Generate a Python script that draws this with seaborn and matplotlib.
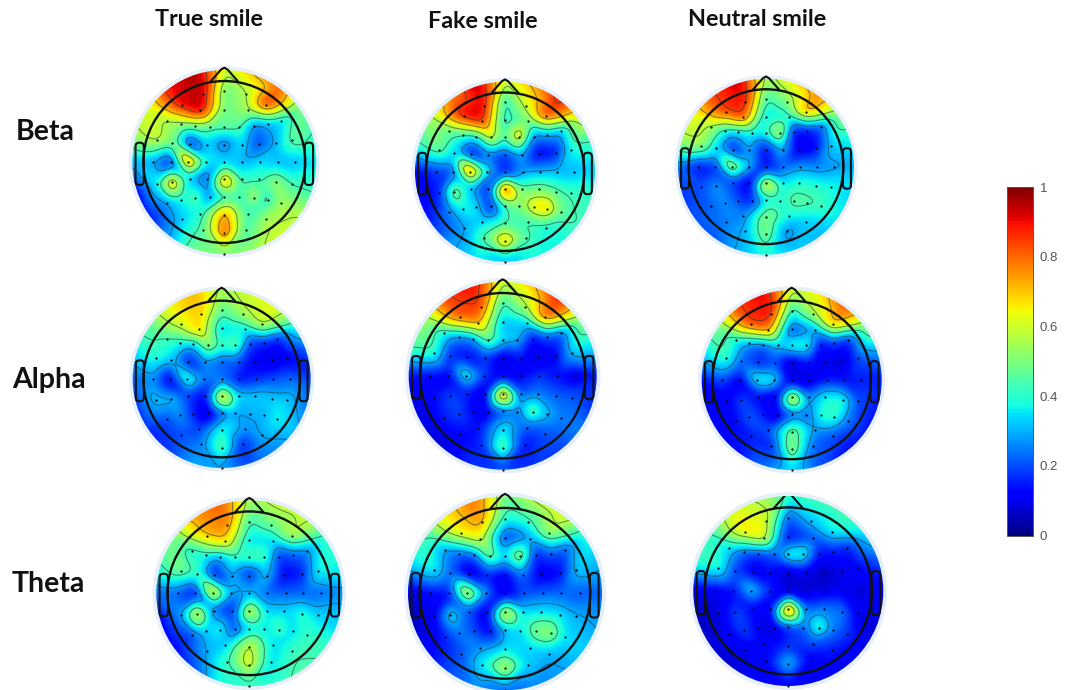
import numpy as np
import matplotlib
matplotlib.use("Agg")
import matplotlib.pyplot as plt
import matplotlib.tri as mtri
from matplotlib.patches import Circle, FancyBboxPatch, Rectangle
from matplotlib.cm import ScalarMappable
from matplotlib.colors import Normalize
import seaborn as sns

sns.set_theme(style="white")
plt.rcParams["font.family"] = ["Lato", "DejaVu Sans"]

columns = ["True smile", "Fake smile", "Neutral smile"]
bands = ["Beta", "Alpha", "Theta"]
cbar_ticks = [0, 0.2, 0.4, 0.6, 0.8, 1]
cbar_labels = ["0", "0.2", "0.4", "0.6", "0.8", "1"]

# Electrode montage, in units of the disk radius (rows front to back)
sensor_x = [-.235, 0, .235,
            -.455, -.26, 0, .26, .455,
            -.62, -.47, -.32, -.155, 0, .155, .32, .47, .62,
            -.735, -.565, -.375, -.19, 0, .19, .375, .565, .735,
            -.77, -.58, -.39, -.195, 0, .195, .39, .58, .77,
            -.735, -.565, -.375, -.19, 0, .19, .375, .565, .735,
            -.62, -.47, -.32, -.155, 0, .155, .32, .47, .62,
            -.455, -.26, 0, .26, .455,
            -.235, 0, .235,
            0]
sensor_y = [.735, .77, .735,
            .62, .56, .57, .56, .62,
            .45, .41, .39, .385, .385, .385, .39, .41, .45,
            .24, .21, .195, .19, .19, .19, .195, .21, .24,
            0, 0, 0, 0, 0, 0, 0, 0, 0,
            -.235, -.22, -.19, -.19, -.19, -.19, -.19, -.22, -.235,
            -.45, -.41, -.39, -.385, -.38, -.385, -.39, -.41, -.45,
            -.625, -.56, -.575, -.56, -.625,
            -.735, -.77, -.735,
            -1.0]
rim_deg = [0, 18, 36, 54, 72, 90, 108, 126, 144, 162, 180, 198, 216, 234, 252, 270, 288, 306, 324, 342]

# Values at the electrodes and at the disk rim, per band and condition
beta_true = [.95, .47, .55,
             .92, .95, .47, .55, .88,
             .55, .52, .48, .47, .48, .47, .25, .3, .33,
             .6, .5, .12, .33, .22, .35, .18, .3, .47,
             .28, .13, .85, .38, .33, .3, .35, .3, .3,
             .38, .78, .3, .2, .78, .4, .42, .55, .42,
             .28, .37, .47, .23, .38, .38, .57, .38, .55,
             .33, .38, .78, .4, .55,
             .45, .85, .42,
             .5]
beta_true_rim = [.6, .75, .8, .5, .42, .35, .42, .58, .62, .55, .5, .5, .28, .12, .08, .3, .55, .62, .9, .98]

beta_fake = [.92, .38, .6,
             .92, .9, .36, .48, .85,
             .47, .42, .38, .65, .42, .72, .25, .3, .3,
             .48, .33, .1, .25, .18, .3, .1, .13, .38,
             .18, .2, .88, .37, .13, .28, .3, .3, .3,
             .15, .55, .3, .13, .9, .45, .48, .45, .42,
             .25, .38, .35, .13, .42, .48, .68, .72, .48,
             .28, .33, .43, .42, .38,
             .45, .75, .45,
             .3]
beta_fake_rim = [.6, .75, .9, .65, .42, .33, .42, .42, .37, .37, .33, .35, .28, .15, .1, .1, .42, .55, .75, .95]

beta_neutral = [.9, .42, .5,
                .85, .85, .33, .38, .75,
                .55, .38, .33, .38, .4, .6, .13, .15, .2,
                .55, .33, .13, .3, .11, .32, .08, .11, .33,
                .13, .16, .6, .33, .11, .22, .27, .25, .27,
                .2, .28, .18, .08, .68, .35, .4, .4, .38,
                .22, .27, .2, .14, .35, .37, .47, .45, .43,
                .25, .25, .52, .38, .33,
                .3, .52, .25,
                .4]
beta_neutral_rim = [.55, .7, .78, .55, .38, .3, .33, .35, .3, .33, .38, .3, .2, .2, .17, .25, .55, .65, .85, .95]

alpha_true = [.7, .45, .55,
              .62, .7, .32, .35, .6,
              .42, .38, .32, .55, .4, .48, .17, .17, .15,
              .4, .32, .12, .27, .2, .2, .11, .07, .1,
              .27, .08, .45, .25, .24, .13, .17, .2, .23,
              .33, .32, .18, .11, .72, .33, .33, .33, .33,
              .2, .28, .15, .04, .22, .28, .3, .3, .38,
              .2, .18, .4, .27, .3,
              .25, .48, .15,
              .28]
alpha_true_rim = [.55, .62, .65, .42, .22, .18, .22, .3, .25, .2, .3, .3, .18, .15, .15, .2, .35, .47, .65, .72]

alpha_fake = [.85, .4, .55,
              .82, .75, .3, .32, .82,
              .35, .25, .25, .5, .35, .33, .12, .2, .2,
              .42, .15, .11, .18, .07, .15, .07, .1, .33,
              .12, .1, .42, .2, .09, .12, .18, .13, .07,
              .13, .2, .15, .07, .85, .2, .25, .22, .22,
              .15, .2, .12, .09, .18, .22, .5, .32, .25,
              .12, .13, .38, .2, .2,
              .15, .5, .13,
              .17]
alpha_fake_rim = [.6, .72, .9, .55, .35, .15, .15, .25, .18, .18, .28, .18, .08, .07, .08, .13, .45, .55, .85, .92]

alpha_neutral = [.9, .38, .55,
                 .85, .78, .18, .28, .72,
                 .37, .27, .22, .33, .42, .42, .12, .18, .15,
                 .42, .22, .14, .2, .06, .15, .09, .06, .2,
                 .2, .09, .4, .38, .07, .07, .15, .13, .15,
                 .1, .2, .12, .06, .7, .25, .38, .4, .2,
                 .13, .22, .15, .06, .2, .2, .4, .42, .25,
                 .15, .2, .52, .27, .2,
                 .15, .55, .22,
                 .35]
alpha_neutral_rim = [.6, .68, .85, .55, .3, .15, .13, .13, .12, .2, .35, .25, .13, .12, .1, .12, .35, .5, .85, .92]

theta_true = [.78, .42, .48,
              .72, .7, .33, .33, .58,
              .37, .38, .3, .42, .45, .45, .17, .22, .25,
              .5, .42, .11, .3, .14, .33, .11, .14, .38,
              .22, .11, .72, .3, .3, .22, .22, .22, .22,
              .28, .7, .22, .14, .65, .33, .33, .4, .33,
              .2, .33, .4, .17, .33, .33, .45, .33, .42,
              .3, .32, .62, .33, .42,
              .42, .65, .33,
              .4]
theta_true_rim = [.55, .62, .6, .42, .38, .27, .32, .42, .45, .42, .42, .38, .18, .1, .08, .22, .42, .5, .75, .82]

theta_fake = [.75, .38, .4,
              .65, .64, .16, .27, .55,
              .27, .22, .22, .52, .33, .58, .14, .22, .2,
              .38, .22, .06, .15, .09, .25, .09, .11, .33,
              .13, .12, .68, .28, .07, .2, .22, .22, .2,
              .1, .38, .2, .07, .68, .33, .35, .35, .3,
              .15, .25, .2, .09, .3, .33, .52, .55, .35,
              .2, .27, .35, .33, .3,
              .37, .62, .33,
              .22]
theta_fake_rim = [.5, .62, .65, .4, .3, .22, .28, .33, .28, .25, .22, .25, .2, .1, .05, .05, .35, .45, .68, .8]

theta_neutral = [.62, .2, .32,
                 .68, .65, .11, .2, .37,
                 .33, .22, .17, .22, .42, .42, .14, .15, .15,
                 .4, .18, .09, .13, .06, .1, .06, .09, .12,
                 .1, .13, .36, .17, .06, .07, .08, .1, .08,
                 .08, .2, .12, .09, .92, .2, .25, .25, .1,
                 .12, .2, .1, .06, .17, .2, .45, .25, .18,
                 .1, .12, .17, .2, .15,
                 .12, .35, .1,
                 .12]
theta_neutral_rim = [.42, .45, .45, .38, .22, .12, .08, .08, .08, .1, .15, .12, .07, .07, .05, .08, .42, .42, .62, .55]

# (values, rim values, centre x px, centre y px, disk radius px, clip nose)
heads = [
    (beta_true, beta_true_rim, 224.3, 162.0, 92, False),
    (beta_fake, beta_fake_rim, 505.0, 171.7, 90, False),
    (beta_neutral, beta_neutral_rim, 766.0, 166.7, 88, False),
    (alpha_true, alpha_true_rim, 221.7, 379.0, 89, False),
    (alpha_fake, alpha_fake_rim, 502.7, 375.7, 94, False),
    (alpha_neutral, alpha_neutral_rim, 791.7, 380.0, 90, False),
    (theta_true, theta_true_rim, 249.3, 593.3, 93, False),
    (theta_fake, theta_fake_rim, 505.0, 593.3, 97, False),
    (theta_neutral, theta_neutral_rim, 788.3, 591.0, 95, True),
]

W, H = 1070, 690
fig = plt.figure(figsize=(W / 100, H / 100), dpi=100, facecolor="white")
contour_levels = [.29, .43, .57, .71, .85]
SPAN = 1.12
HEAD = 0.88
RIM_R = 1.06
BLUR = 0.05
outline = "#111111"
grid = np.linspace(-1.2, 1.2, 361)
GX, GY = np.meshgrid(grid, grid)


def smooth(field):
    step = grid[1] - grid[0]
    half = int(3 * BLUR / step)
    offs = np.arange(-half, half + 1) * step
    kernel = np.exp(-0.5 * (offs / BLUR) ** 2)
    kernel /= kernel.sum()
    pad = np.pad(field, half, mode="edge")
    pad = np.apply_along_axis(lambda v: np.convolve(v, kernel, mode="same"), 0, pad)
    pad = np.apply_along_axis(lambda v: np.convolve(v, kernel, mode="same"), 1, pad)
    return pad[half:-half, half:-half]


def draw_head(values, rim, cx, cy, r, clip_nose):
    ax = fig.add_axes([(cx - r * SPAN) / W, 1 - (cy + r * SPAN) / H,
                       2 * r * SPAN / W, 2 * r * SPAN / H])
    ang = np.deg2rad(rim_deg)
    x = np.r_[sensor_x, RIM_R * np.sin(ang)]
    y = np.r_[sensor_y, RIM_R * np.cos(ang)]
    z = np.r_[values, rim]
    tri = mtri.Triangulation(x, y)
    field = mtri.LinearTriInterpolator(tri, z)(GX, GY)
    # outside the rim ring: nearest rim value by angle
    rim_arr = np.asarray(rim)
    idx = (np.round(np.degrees(np.arctan2(GX, GY)) / 18).astype(int)) % 20
    field = np.where(np.ma.getmaskarray(field), rim_arr[idx], np.ma.getdata(field))
    field = smooth(np.clip(field, 0, 1))

    ax.add_patch(Circle((0, 0), 1.04, fc="#e6effa", ec="none", zorder=0))
    disk = Circle((0, 0), 1.0, transform=ax.transData, fc="none", ec="none")
    ax.add_patch(disk)
    mesh = ax.imshow(field, origin="lower", extent=(-1.2, 1.2, -1.2, 1.2), cmap="jet",
                     vmin=0, vmax=1, interpolation="bilinear", zorder=1)
    mesh.set_clip_path(disk)
    lines = ax.contour(GX, GY, field, levels=contour_levels, colors="#1f3a3a",
                       linewidths=0.8, alpha=0.55, zorder=2)
    lines.set_clip_path(disk)

    sns.scatterplot(x=sensor_x, y=sensor_y, ax=ax, color="black", s=2.5, linewidth=0,
                    legend=False, zorder=3, clip_on=False)

    ax.add_patch(Circle((0, 0), HEAD, fc="none", ec=outline, lw=1.7, zorder=4))
    nose, = ax.plot([-.15, -.035, 0, .035, .15], [.875, 1.005, 1.025, 1.005, .875],
                    color=outline, lw=1.5, zorder=4, solid_joinstyle="round")
    if clip_nose:
        nose.set_clip_path(Rectangle((-1, .5), 2, .5, transform=ax.transData))
    for side in (-1, 1):
        x0 = -.965 if side < 0 else .875
        ax.add_patch(FancyBboxPatch((x0 + .03, -.22), .03, .40,
                                    boxstyle="round,pad=0.03,rounding_size=0.04",
                                    fc="none", ec=outline, lw=1.5, zorder=4))
    ax.set_xlim(-SPAN, SPAN)
    ax.set_ylim(-SPAN, SPAN)
    ax.set_aspect("equal")
    ax.axis("off")
    return mesh


for head in heads:
    mesh = draw_head(*head)

for label, x, y in zip(columns, [209, 483, 757], [20, 22, 19]):
    fig.text(x / W, 1 - y / H, label, ha="center", va="center", fontsize=16.8,
             fontweight="bold", color="#111111")
for label, x, y in zip(bands, [45, 49, 48], [132, 380, 584]):
    fig.text(x / W, 1 - y / H, label, ha="center", va="center", fontsize=20.5,
             fontweight="bold", color="#111111")

cax = fig.add_axes([1007 / W, 1 - 535.5 / H, 26 / W, 348.5 / H])
cb = fig.colorbar(ScalarMappable(Normalize(0, 1), "jet"), cax=cax)
cb.set_ticks(cbar_ticks)
cb.set_ticklabels(cbar_labels)
cb.ax.tick_params(length=2, width=0.6, color="#333333", labelcolor="#555555",
                  labelsize=9.5, pad=5, direction="in")
cb.outline.set_linewidth(0.7)
cb.outline.set_edgecolor("#555555")
for t in cb.ax.get_yticklabels():
    t.set_family(["Liberation Sans", "DejaVu Sans"])

fig.savefig("out.png", dpi=100, facecolor="white")
